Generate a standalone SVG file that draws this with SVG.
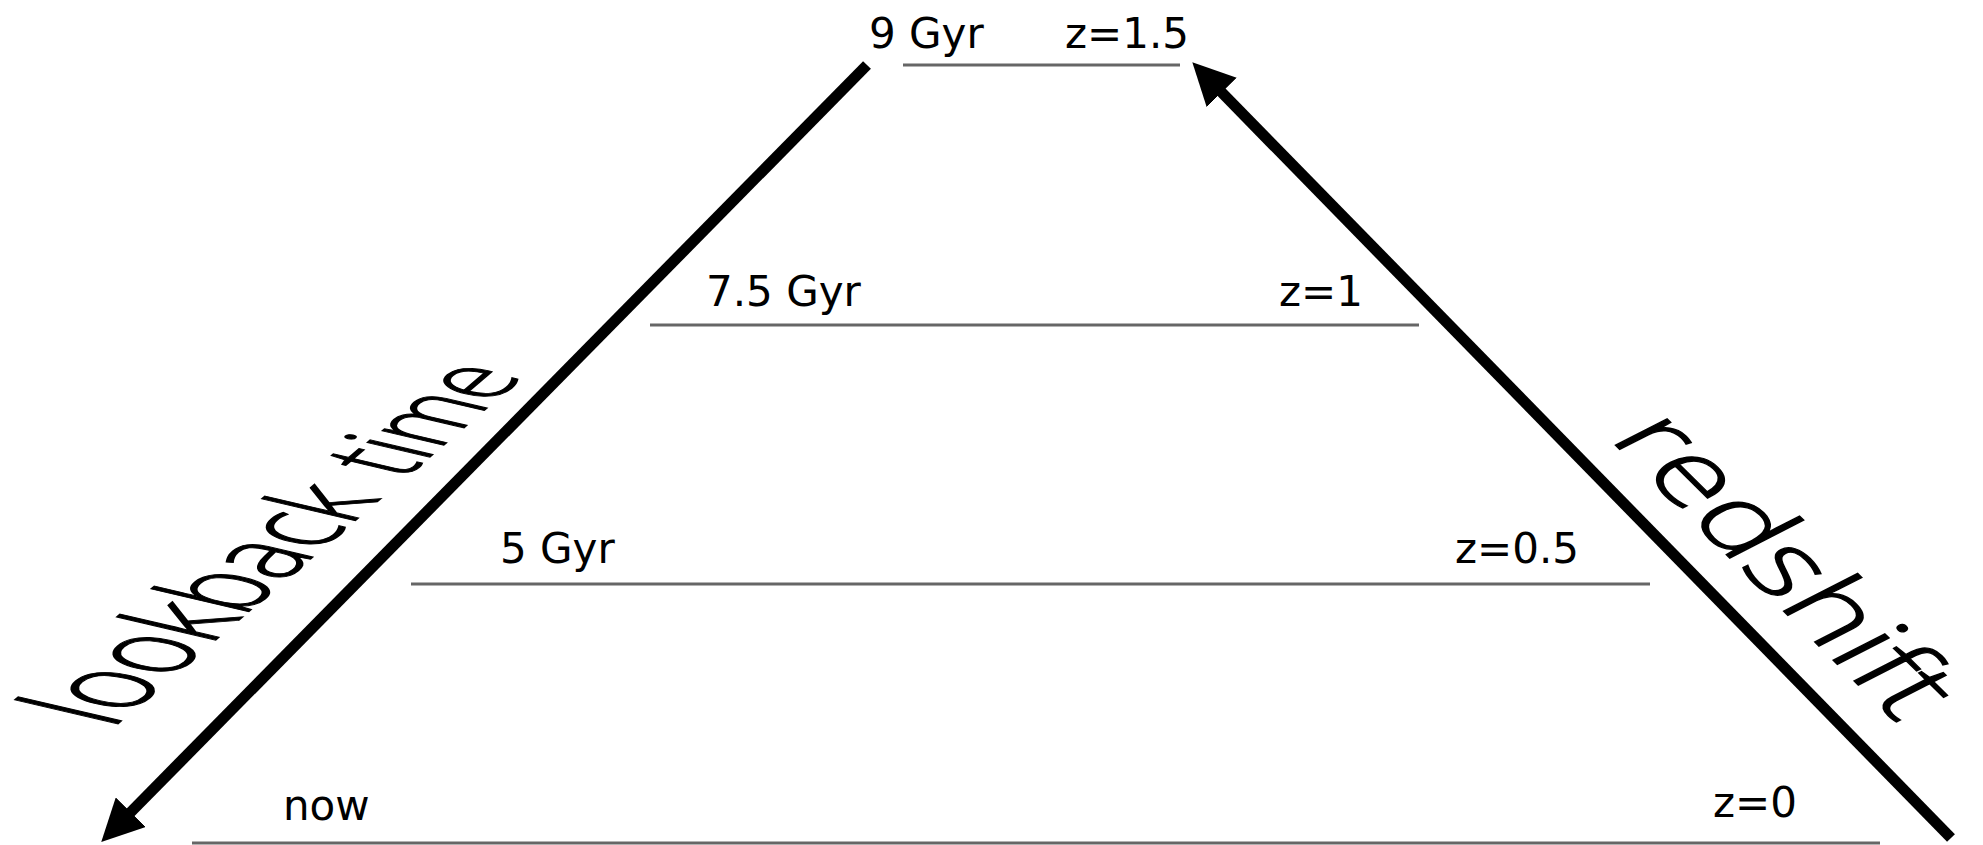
<svg xmlns="http://www.w3.org/2000/svg" width="1983" height="845" viewBox="0 0 1983 845">
<style>
.lbl{font-family:"DejaVu Sans",sans-serif;font-size:42px;fill:#000}
.axis{font-family:"Open Sans",Lato,sans-serif;font-weight:300;font-size:100px;fill:#000;stroke:#000;stroke-width:1.3;white-space:pre}
.lvl{stroke:#666;stroke-width:3;fill:none}
.arr{stroke:#000;stroke-width:11;fill:none;marker-end:url(#ah)}
</style>
<defs>
<marker id="ah" markerUnits="userSpaceOnUse" markerWidth="42" markerHeight="42" viewBox="0 0 42 42" refX="11" refY="21" orient="auto">
<path d="M0,0 L42,21 L0,42 Z" fill="#000"/>
</marker>
</defs>
<rect width="1983" height="845" fill="#fff"/>
<g id="level-9gyr">
<line class="lvl" x1="903" y1="65" x2="1180" y2="65"/>
<text class="lbl" x="869" y="48">9 Gyr</text>
<text class="lbl" x="1065" y="48">z=1.5</text>
</g>
<g id="level-7-5gyr">
<line class="lvl" x1="650" y1="325" x2="1419" y2="325"/>
<text class="lbl" x="706" y="306">7.5 Gyr</text>
<text class="lbl" x="1279" y="306">z=1</text>
</g>
<g id="level-5gyr">
<line class="lvl" x1="411" y1="584" x2="1650" y2="584"/>
<text class="lbl" x="500" y="563">5 Gyr</text>
<text class="lbl" x="1455" y="563">z=0.5</text>
</g>
<g id="level-now">
<line class="lvl" x1="192" y1="843" x2="1880" y2="843"/>
<text class="lbl" x="283" y="820">now</text>
<text class="lbl" x="1713" y="817">z=0</text>
</g>
<g id="connectors">
<line class="arr" x1="867" y1="65" x2="123" y2="820"/>
<line class="arr" x1="1951" y1="838" x2="1214" y2="84.5"/>
</g>
<g id="axis-lookback">
<text class="axis" transform="matrix(0.714,-0.611,1.355,0.316,111.4,729.3)"><tspan font-size="100">l</tspan><tspan font-size="98.7">o</tspan><tspan font-size="97.3">o</tspan><tspan font-size="96">k</tspan><tspan font-size="94.7">b</tspan><tspan font-size="93.3">a</tspan><tspan font-size="92">c</tspan><tspan font-size="90.7">k</tspan><tspan font-size="89.3"> </tspan><tspan font-size="88" dx="8">t</tspan><tspan font-size="86.7">i</tspan><tspan font-size="85.3">m</tspan><tspan font-size="84">e</tspan></text>
</g>
<g id="axis-redshift">
<text class="axis" transform="matrix(0.841,0.830,-0.975,0.5,1608,438)">redshift</text>
</g>
</svg>
